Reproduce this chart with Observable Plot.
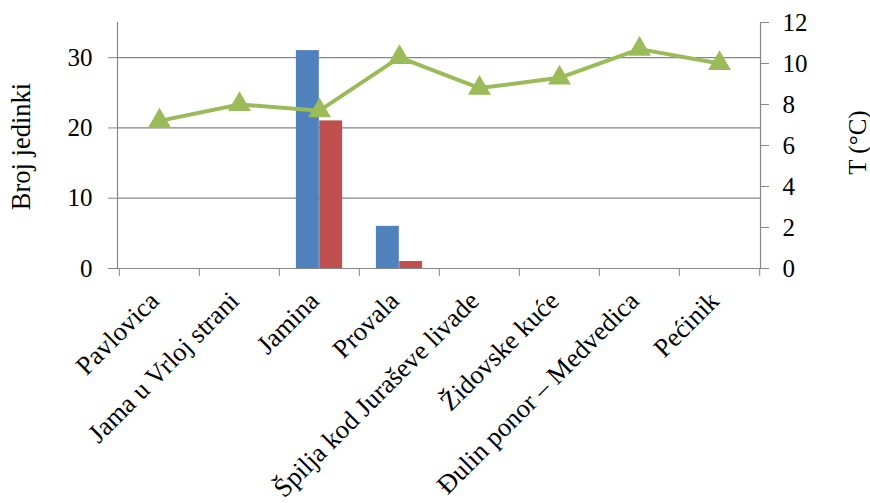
<!DOCTYPE html>
<html>
<head>
<meta charset="utf-8">
<script src="https://cdn.jsdelivr.net/npm/d3@7"></script>
<script src="https://cdn.jsdelivr.net/npm/@observablehq/plot@0.6"></script>
<style>
  html, body { margin: 0; padding: 0; background: #fff; }
  #chart svg { display: block; }
</style>
</head>
<body>
<div id="chart"></div>
<script>
const categories = ["Pavlovica", "Jama u Vrloj strani", "Jamina", "Provala", "Špilja kod Juraševe livade", "Židovske kuće", "Đulin ponor – Medvedica", "Pećinik"];
const seriesBlue = [0, 0, 31, 6, 0, 0, 0, 0];
const seriesRed = [0, 0, 21, 1, 0, 0, 0, 0];
const temperature = [7.2, 8.0, 7.7, 10.3, 8.8, 9.3, 10.7, 10.0];
const leftTicks = [0, 10, 20, 30];
const rightTicks = [0, 2, 4, 6, 8, 10, 12];
const leftMax = 35;
const rightMax = 12;
const k = leftMax / rightMax;

const W = 870, H = 503;
const mL = 117, mR = 110, mT = 22, mB = 235;
const bw = (W - mL - mR) / categories.length;
const barW = 23.3;

const data = categories.map((c, i) => ({cat: c, blue: seriesBlue[i], red: seriesRed[i], t: temperature[i] * k}));
const grid = "#868686";

const chart = Plot.plot({
  width: W, height: H,
  marginLeft: mL, marginRight: mR, marginTop: mT, marginBottom: mB,
  style: {fontFamily: "'Liberation Serif', 'Times New Roman', serif", fontSize: "24px", color: "#000", background: "#fff"},
  x: {domain: categories, padding: 0, axis: null},
  y: {domain: [0, leftMax], axis: null},
  marks: [
    Plot.ruleY(leftTicks.filter(d => d > 0), {stroke: grid, strokeWidth: 1.2}),
    Plot.barY(data, {x: "cat", y: "blue", fill: "#4F81BD", insetLeft: bw / 2 - barW, insetRight: bw / 2}),
    Plot.barY(data, {x: "cat", y: "red", fill: "#C0504D", insetLeft: bw / 2, insetRight: bw / 2 - barW}),
    Plot.frame({anchor: "left", stroke: grid, strokeWidth: 1.2}),
    Plot.frame({anchor: "right", stroke: grid, strokeWidth: 1.2}),
    Plot.frame({anchor: "bottom", stroke: grid, strokeWidth: 1.2}),
    Plot.axisY(leftTicks, {anchor: "left", tickSize: 9, tickPadding: 16, stroke: grid, fill: "#000", label: null, fontSize: 25}),
    Plot.axisY(rightTicks.map(d => d * k), {anchor: "right", tickSize: 8, tickPadding: 14, stroke: grid, fill: "#000", label: null, tickFormat: d => String(Math.round(d / k)), fontSize: 25}),
    Plot.axisX(categories, {anchor: "bottom", tickSize: 8, stroke: grid, tickFormat: () => "", dx: -bw / 2, label: null}),
    Plot.axisX(categories.slice(-1), {anchor: "bottom", tickSize: 8, stroke: grid, tickFormat: () => "", dx: bw / 2, label: null}),
    Plot.text(categories, {x: d => d, frameAnchor: "bottom", rotate: -45, textAnchor: "end", lineAnchor: "middle", dx: -5, dy: 28, fontSize: 26.5, fill: "#000"}),
    Plot.lineY(data, {x: "cat", y: "t", stroke: "#9BBB59", strokeWidth: 4}),
    Plot.dot(data, {x: "cat", y: "t", symbol: "triangle", r: 8.5, fill: "#9BBB59", stroke: "none"}),
    Plot.text(["Broj jedinki"], {frameAnchor: "left", textAnchor: "middle", rotate: -90, dx: -96, dy: 1, fontSize: 26.5, fill: "#000"}),
    Plot.text(["T (°C)"], {frameAnchor: "right", textAnchor: "middle", rotate: -90, dx: 97, dy: -3, fontSize: 25, fill: "#000"})
  ]
});
document.getElementById("chart").appendChild(chart);
</script>
</body>
</html>
